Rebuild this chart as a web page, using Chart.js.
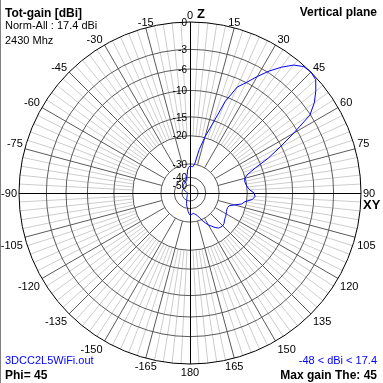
<!DOCTYPE html>
<html>
<head>
<meta charset="utf-8">
<script src="https://cdn.jsdelivr.net/npm/chart.js@4/dist/chart.umd.min.js"></script>
<style>
  html, body { margin: 0; padding: 0; background: #fff; }
  canvas { display: block; }
</style>
</head>
<body>
<canvas id="pattern" width="383" height="383"></canvas>
<script>
// theta is measured from Z, clockwise, one sample every 3 degrees (0..357)
const thetaStep = 3;
// gain relative to the max (17.4 dBi)
const gainDb = [
  -31.5, -31.8, -32, -30, -24.5, -19.7, -16, -10.9, -7.5, -6.0,      // 0..27
  -4.4, -2.8, -1.7, -0.7, -0.1, 0, -0.2, -1.0, -1.9, -3.1,          // 30..57
  -6.8, -10.3, -13.2, -16.6, -19.1, -20.2, -20.5, -20.3, -19.9, -19.3, // 60..87
  -18.2, -17.9, -18.6, -20.6, -21.6, -24, -25.7, -26, -26, -25.8,    // 90..117
  -25.5, -25.2, -25, -24.6, -24.1, -23.9, -24, -24.3, -25.2, -26.3,  // 120..147
  -27.2, -28.5, -29.7, -31.9, -34, -35, -35.8, -36.3, -36, -35.6,    // 150..177
  -35.3, -36.5, -38, -40, -42, -44, -46, -48, -50, -52,              // 180..-153
  -54, -55, -56, -57, -58, -58, -59, -60, -60, -61,                  // -150..-123
  -61, -62, -62, -62, -63, -63, -64, -64, -65, -65,                  // -120..-93
  -65, -64, -63, -62, -61, -60, -59, -57, -55, -53,                  // -90..-63
  -52, -51, -50, -49, -48.5, -48, -47.5, -47, -46.5, -46,            // -60..-33
  -46, -45.5, -45, -45, -44.5, -44, -41, -38, -34.5, -32.5           // -30..-3
];
// rings of the log polar grid and where they sit (fraction of the outer radius)
const ringDb = [0, -3, -6, -10, -15, -20, -30, -40, -50];
const ringFrac = [1, 0.84, 0.725, 0.6, 0.445, 0.335, 0.17, 0.092, 0.047];
const labelStep = 15;

const maxGain = 17.4;
const minGain = -48;

function dbToFrac(db) {
  const d = ringDb.concat([-60, -75]);
  const f = ringFrac.concat([0.02, 0]);
  if (db >= 0) return 1;
  for (let i = 1; i < d.length; i++) {
    if (db >= d[i]) {
      const t = (db - d[i]) / (d[i - 1] - d[i]);
      return f[i] + t * (f[i - 1] - f[i]);
    }
  }
  return 0;
}

// radial scale with the log (dB) spacing of the rings
class LogPolarScale extends Chart.RadialLinearScale {
  getDistanceFromCenterForValue(value) {
    if (value === null || isNaN(value)) return 0;
    return this.drawingArea * dbToFrac(value);
  }
}
LogPolarScale.id = 'logPolar';
LogPolarScale.defaults = Chart.RadialLinearScale.defaults;
Chart.register(LogPolarScale);

const thetaLabels = gainDb.map((_, i) => {
  const a = i * thetaStep;
  return a <= 180 ? a : a - 360;
});

const FONT = '"Liberation Sans", Arial, sans-serif';

const polarDecor = {
  id: 'polarDecor',
  beforeDraw(chart) {
    // spokes: light every 3 deg, dark every 15 deg
    const s = chart.scales.r, ctx = chart.ctx;
    ctx.save();
    ctx.lineWidth = 1;
    thetaLabels.forEach((lab, i) => {
      const a = i * thetaStep;
      if (a % 90 === 0) return;
      const major = a % labelStep === 0;
      const from = s.getPointPositionForValue(i, major ? -30 : -20);
      const to = s.getPointPositionForValue(i, 0);
      ctx.strokeStyle = major ? '#5a5a5a' : '#cdcdcd';
      ctx.beginPath();
      ctx.moveTo(from.x, from.y);
      ctx.lineTo(to.x, to.y);
      ctx.stroke();
    });
    ctx.restore();
  },
  beforeDatasetsDraw(chart) {
    const s = chart.scales.r, ctx = chart.ctx;
    const cx = s.xCenter, cy = s.yCenter, R = s.drawingArea;
    ctx.save();
    ctx.strokeStyle = '#000';
    ctx.lineWidth = 1;
    ctx.beginPath();
    ctx.moveTo(cx + 0.5, cy - R);
    ctx.lineTo(cx + 0.5, cy + R);
    ctx.moveTo(cx - R, cy + 0.5);
    ctx.lineTo(cx + R, cy + 0.5);
    ctx.stroke();

    ctx.fillStyle = '#000';
    ctx.font = '10px ' + FONT;
    // ring labels, left of the Z axis
    ctx.textAlign = 'right';
    ctx.textBaseline = 'middle';
    ringDb.forEach(db => {
      ctx.fillText(String(db), cx - 3, cy - s.getDistanceFromCenterForValue(db) + 1);
    });

    // angle labels
    thetaLabels.forEach((lab, i) => {
      if (lab % labelStep !== 0) return;
      const p = s.getPointPositionForValue(i, 0);
      const rad = lab * Math.PI / 180;
      const sn = Math.sin(rad), cs = Math.cos(rad);
      let x = p.x, y = p.y;
      if (lab === 0) {
        ctx.textAlign = 'right';
        ctx.textBaseline = 'bottom';
        ctx.font = '11px ' + FONT;
        ctx.fillText('0', x + 3, y - 1);
        ctx.textAlign = 'left';
        ctx.font = 'bold 13px ' + FONT;
        ctx.fillText('Z', x + 7, y - 1);
        ctx.font = '10px ' + FONT;
        return;
      }
      if (Math.abs(sn) < 0.3) { ctx.textAlign = 'center'; }
      else if (sn > 0) { ctx.textAlign = 'left'; x += 2; }
      else { ctx.textAlign = 'right'; x -= 2; }
      if (cs > 0.2) { ctx.textBaseline = 'bottom'; y += 1; }
      else if (cs < -0.2) { ctx.textBaseline = 'top'; y += 3; }
      else { ctx.textBaseline = 'middle'; y += 1; }
      ctx.font = '11px ' + FONT;
      ctx.fillText(String(lab), x, y);
      if (lab === 90) {
        ctx.font = 'bold 13px ' + FONT;
        ctx.textBaseline = 'top';
        ctx.fillText('XY', x, y + 5);
      }
    });
    ctx.restore();
  },
  afterDraw(chart) {
    const ctx = chart.ctx, W = chart.width;
    ctx.save();
    ctx.strokeStyle = '#808080';
    ctx.beginPath();
    ctx.moveTo(0.5, 0);
    ctx.lineTo(0.5, chart.height);
    ctx.stroke();

    ctx.textBaseline = 'alphabetic';
    ctx.fillStyle = '#000';
    ctx.textAlign = 'left';
    ctx.font = 'bold 12px ' + FONT;
    ctx.fillText('Tot-gain [dBi]', 5, 17);
    ctx.font = '11px ' + FONT;
    ctx.fillText('Norm-All : ' + maxGain + ' dBi', 5, 29);
    ctx.fillText('2430 Mhz', 5, 44);
    ctx.fillStyle = '#0000ff';
    ctx.fillText('3DCC2L5WiFi.out', 5, 364);
    ctx.fillStyle = '#000';
    ctx.font = 'bold 12px ' + FONT;
    ctx.fillText('Phi= 45', 5, 379);

    ctx.textAlign = 'right';
    ctx.fillText('Vertical plane', W - 6, 16);
    ctx.fillText('Max gain The: 45', W - 6, 379);
    ctx.font = '11px ' + FONT;
    ctx.fillStyle = '#0000ff';
    ctx.fillText(minGain + ' < dBi < ' + maxGain, W - 6, 364);
    ctx.restore();
  }
};

new Chart(document.getElementById('pattern').getContext('2d'), {
  type: 'radar',
  data: {
    labels: thetaLabels,
    datasets: [{
      data: gainDb,
      borderColor: '#0000ff',
      borderWidth: 1,
      pointRadius: 0,
      fill: false,
      tension: 0
    }]
  },
  options: {
    responsive: false,
    animation: false,
    layout: { padding: { left: 19, top: 22, right: 22, bottom: 19 } },
    plugins: { legend: { display: false }, tooltip: { enabled: false } },
    scales: {
      r: {
        type: 'logPolar',
        min: -75,
        max: 0,
        startAngle: 0,
        angleLines: { display: false },
        pointLabels: { display: false },
        ticks: { display: false },
        afterBuildTicks: (scale) => {
          scale.ticks = [-75].concat(ringDb.slice().reverse()).map(v => ({ value: v }));
        },
        grid: {
          circular: true,
          lineWidth: 1,
          color: (c) => {
            const v = c.tick ? c.tick.value : -75;
            if (v < -50) return 'rgba(0,0,0,0)';
            return v === 0 ? '#000' : '#5a5a5a';
          }
        }
      }
    }
  },
  plugins: [polarDecor]
});
</script>
</body>
</html>
